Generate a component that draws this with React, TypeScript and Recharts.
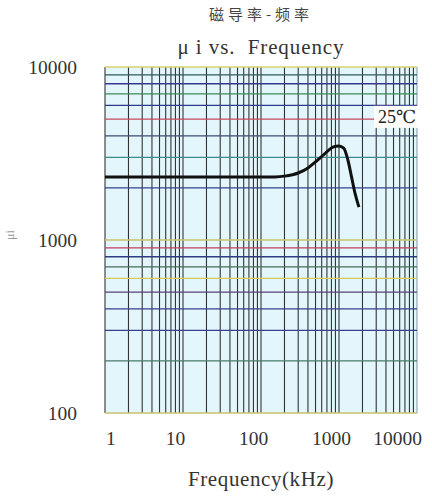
import React from "react";
import {
  LineChart,
  Line,
  XAxis,
  YAxis,
  ReferenceLine,
  ReferenceArea,
  ReferenceDot,
} from "recharts";

// mu_i vs frequency
const FREQ_KHZ = [1, 2, 5, 10, 20, 50, 100, 150, 200, 300, 400, 500, 650, 850, 1000, 1150, 1300, 1450, 1600, 1800];
const MU_I = [2310, 2310, 2310, 2310, 2310, 2310, 2310, 2315, 2340, 2440, 2610, 2830, 3140, 3450, 3500, 3400, 2900, 2310, 1870, 1550];

const X_TICKS = [1, 10, 100, 1000, 10000];
const Y_TICKS = [100, 1000, 10000];

const X_GRID = [
  1, 2, 3, 4, 5, 6, 7, 8, 9,
  10, 20, 30, 40, 50, 60, 70, 80, 90,
  100, 200, 300, 400, 500, 600, 700, 800, 900,
  1000, 2000, 3000, 4000, 5000, 6000, 7000, 8000, 9000,
  10000,
];
const Y_GRID = [
  100, 200, 300, 400, 500, 600, 700, 800, 900,
  1000, 2000, 3000, 4000, 5000, 6000, 7000, 8000, 9000,
  10000,
];

// scanned grid paper: every horizontal rule has its own ink colour
const H_COLORS = [
  "#c9c070", "#4a7a6a", "#3a3f8f", "#3a3f8f", "#5a3f7a", "#d8c860", "#4a6a5a", "#303a80", "#c04060",
  "#c8c070", "#34408f", "#3f8a8a", "#404a70", "#c84860", "#2e3a8a", "#3a8a5a", "#383890", "#2e5a5a",
  "#d8d070",
];
const V_COLOR = "#333";

const TEMP_LABEL = "25℃";
const TEMP_AT = { f: 5400, mu: 5150 };

const data = FREQ_KHZ.map((f, i) => ({ f, mu: MU_I[i] }));

const SERIF =
  "'Liberation Serif', 'DejaVu Serif', Tinos, 'Noto Serif', FreeSerif, 'Nimbus Roman', 'Noto Serif CJK SC', serif";

function XTick(props: any) {
  const { x, y, payload, index } = props;
  const last = index === X_TICKS.length - 1;
  const first = index === 0;
  return (
    <text
      x={first ? x + 1 : last ? x + 10 : x - 7.5}
      y={y}
      dy="0.71em"
      textAnchor={first ? "start" : last ? "end" : "middle"}
      style={{ fontFamily: SERIF, fontSize: 19.5 }}
      fill="#333"
    >
      {payload.value}
    </text>
  );
}

function YTick(props: any) {
  const { x, y, payload } = props;
  return (
    <text x={x} y={y} dy="0.355em" textAnchor="end" style={{ fontFamily: SERIF, fontSize: 19.5 }} fill="#333">
      {payload.value}
    </text>
  );
}

function TempBox(props: any) {
  const { cx, cy } = props;
  return (
    <g>
      <rect x={cx - 22} y={cy - 11} width={44} height={22} fill="#fff" />
      <text
        x={cx + 1}
        y={cy}
        dy="0.35em"
        textAnchor="middle"
        style={{ fontFamily: SERIF, fontSize: 18 }}
        fill="#222"
      >
        {TEMP_LABEL}
      </text>
    </g>
  );
}

export default function App() {
  return (
    <div style={{ position: "absolute", left: 0, top: 0, width: 432, height: 496, background: "#fff" }}>
      <div
        style={{
          position: "absolute",
          left: 105,
          width: 312,
          top: 4,
          textAlign: "center",
          fontFamily: "'Noto Sans CJK SC', sans-serif",
          fontSize: 15,
          letterSpacing: 4,
          color: "#444",
          lineHeight: "20px",
        }}
      >
        磁导率-频率
      </div>
      <div
        style={{
          position: "absolute",
          left: 105,
          width: 312,
          top: 33,
          textAlign: "center",
          fontFamily: SERIF,
          fontSize: 21,
          letterSpacing: 0.9,
          color: "#333",
          lineHeight: "28px",
          whiteSpace: "pre",
        }}
      >
        {"μ i vs.  Frequency"}
      </div>

      <LineChart
        width={432}
        height={496}
        data={data}
        margin={{ top: 67, right: 15, left: 0, bottom: 0 }}
        style={{ fontFamily: SERIF }}
      >
        <XAxis
          dataKey="f"
          type="number"
          scale="log"
          domain={[1, 10000]}
          ticks={X_TICKS}
          allowDataOverflow
          axisLine={false}
          tickLine={false}
          tickSize={0}
          tickMargin={18}
          height={83}
          tick={<XTick />}
          label={{
            value: "Frequency(kHz)",
            position: "insideBottom",
            offset: 10,
            style: { fontFamily: SERIF, fontSize: 21, letterSpacing: 0.6 },
            fill: "#333",
          }}
        />
        <YAxis
          type="number"
          scale="log"
          domain={[100, 10000]}
          ticks={Y_TICKS}
          allowDataOverflow
          axisLine={false}
          tickLine={false}
          tickSize={0}
          tickMargin={28}
          width={105}
          tick={<YTick />}
          label={{
            value: "μi",
            angle: -90,
            position: "insideLeft",
            offset: 10,
            style: { fontFamily: SERIF, fontSize: 12 },
            fill: "#999",
          }}
        />

        <ReferenceArea x1={1} x2={10000} y1={100} y2={10000} fill="#e2f6fb" fillOpacity={1} stroke="none" />
        {X_GRID.map((v) => (
          <ReferenceLine
            key={"x" + v}
            x={v}
            stroke={v === 10000 ? "#8aa4b0" : V_COLOR}
            strokeWidth={1.1}
          />
        ))}
        {Y_GRID.map((v, i) => (
          <ReferenceLine key={"y" + v} y={v} stroke={H_COLORS[i]} strokeWidth={1.3} />
        ))}
        <ReferenceDot x={TEMP_AT.f} y={TEMP_AT.mu} shape={<TempBox />} />

        <Line
          type="monotone"
          dataKey="mu"
          stroke="#111"
          strokeWidth={3}
          dot={false}
          isAnimationActive={false}
        />
      </LineChart>
    </div>
  );
}
